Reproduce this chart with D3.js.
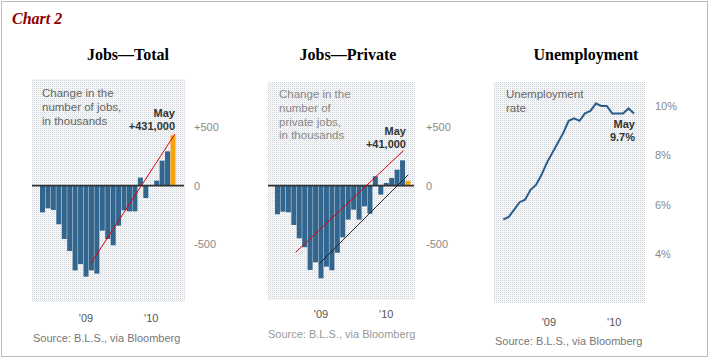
<!DOCTYPE html>
<html>
<head>
<meta charset="utf-8">
<script src="https://cdn.jsdelivr.net/npm/d3@7"></script>
<style>
  body { margin: 0; background: #fff; }
  text { font-family: "Liberation Sans", Arial, sans-serif; }
</style>
</head>
<body>
<div id="chart"></div>
<script>
// data, May 2008 to May 2010
var months = ["May 08", "Jun 08", "Jul 08", "Aug 08", "Sep 08", "Oct 08", "Nov 08", "Dec 08",
    "Jan 09", "Feb 09", "Mar 09", "Apr 09", "May 09", "Jun 09", "Jul 09", "Aug 09", "Sep 09",
    "Oct 09", "Nov 09", "Dec 09", "Jan 10", "Feb 10", "Mar 10", "Apr 10", "May 10"];

var totalJobs = [-229, -194, -208, -331, -457, -560, -726, -672, -780, -726, -754, -386,
    -457, -511, -343, -211, -220, -220, 69, -106, 5, 43, 214, 294, 431];

var privateJobs = [-245, -223, -228, -337, -451, -528, -722, -657, -794, -694, -725, -575,
    -443, -291, -206, -291, -177, -240, 80, -77, 23, 66, 137, 217, 41];

var unemployment = [5.4, 5.5, 5.8, 6.1, 6.2, 6.6, 6.8, 7.2, 7.7, 8.1, 8.5, 8.9, 9.4, 9.5,
    9.4, 9.7, 9.8, 10.1, 10.0, 10.0, 9.7, 9.7, 9.7, 9.9, 9.7];

var yearTicks = ["Jan 09", "Jan 10"];
var yearLabels = ["'09", "'10"];
var jobTicks = [500, 0, -500];
var jobTickLabels = ["+500", "0", "-500"];
var rateTicks = [10, 8, 6, 4];
var rateTickLabels = ["10%", "8%", "6%", "4%"];

// trend lines, in bar index / thousands
var totalTrend = [[8.9, -665], [24.4, 443]];
var privateTrendA = [[3.3, -572], [23.2, 300]];
var privateTrendB = [[7.7, -668], [24.1, 94]];

var width = 710;
var height = 362;

var svg = d3.select("#chart")
    .append("svg")
    .attr("width", width)
    .attr("height", height);

var defs = svg.append("defs");
var pat = defs.append("pattern")
    .attr("id", "dots")
    .attr("width", 2)
    .attr("height", 2)
    .attr("patternUnits", "userSpaceOnUse");
pat.append("rect").attr("width", 2).attr("height", 2).attr("fill", "#fbfcfd");
pat.append("rect").attr("width", 1).attr("height", 1).attr("fill", "#cfd3d7");
pat.append("rect").attr("x", 1).attr("y", 1).attr("width", 1).attr("height", 1).attr("fill", "#e9eef1");

// outer border
svg.append("rect")
    .attr("x", 1.5)
    .attr("y", 1.5)
    .attr("width", 706)
    .attr("height", 355)
    .attr("fill", "none")
    .attr("stroke", "#777")
    .attr("stroke-dasharray", "1,1");

svg.append("text")
    .attr("x", 12)
    .attr("y", 24)
    .style("font-family", "'Liberation Serif', 'Times New Roman', serif")
    .style("font-style", "italic")
    .style("font-weight", "bold")
    .style("font-size", "16px")
    .attr("fill", "#8b0000")
    .text("Chart 2");

function addTitle(x, label) {
    svg.append("text")
        .attr("x", x)
        .attr("y", 60)
        .attr("text-anchor", "middle")
        .style("font-family", "'Liberation Serif', 'Times New Roman', serif")
        .style("font-weight", "bold")
        .style("font-size", "16px")
        .attr("fill", "#000")
        .text(label);
}

function addNote(x, y0, lines, color) {
    svg.append("text")
        .attr("x", x)
        .attr("y", y0)
        .style("font-size", "11.5px")
        .attr("fill", color)
        .selectAll("tspan")
        .data(lines)
        .enter()
        .append("tspan")
        .attr("x", x)
        .attr("dy", function (d, i) { return i === 0 ? 0 : 13.8; })
        .text(function (d) { return d; });
}

function addCallout(x, y0, lines) {
    svg.append("text")
        .attr("x", x)
        .attr("y", y0)
        .attr("text-anchor", "end")
        .style("font-size", "11px")
        .style("font-weight", "bold")
        .attr("fill", "#333")
        .selectAll("tspan")
        .data(lines)
        .enter()
        .append("tspan")
        .attr("x", x)
        .attr("dy", function (d, i) { return i === 0 ? 0 : 12.8; })
        .text(function (d) { return d; });
}

function addSource(x, y, color) {
    svg.append("text")
        .attr("x", x)
        .attr("y", y)
        .style("font-size", "11px")
        .attr("fill", color)
        .text("Source: B.L.S., via Bloomberg");
}

function drawBars(cfg) {
    var g = svg.append("g");

    g.append("rect")
        .attr("x", cfg.box[0])
        .attr("y", cfg.box[1])
        .attr("width", cfg.box[2] - cfg.box[0])
        .attr("height", cfg.box[3] - cfg.box[1])
        .attr("fill", "url(#dots)");

    var x = d3.scaleBand()
        .domain(months)
        .range(cfg.xRange)
        .paddingInner(0.08);

    var xIdx = d3.scaleLinear()
        .domain([-0.5, months.length - 0.5])
        .range(cfg.xRange);

    var y = d3.scaleLinear()
        .domain([-500, 500])
        .range([244, 127.3]);

    g.selectAll(".bar")
        .data(cfg.values)
        .enter()
        .append("rect")
        .attr("class", "bar")
        .attr("x", function (d, i) { return x(months[i]); })
        .attr("width", x.bandwidth())
        .attr("y", function (d) { return y(Math.max(0, d)); })
        .attr("height", function (d) { return Math.abs(y(d) - y(0)); })
        .attr("fill", function (d, i) { return i === months.length - 1 ? "#f7a40c" : "#33668f"; });

    g.append("line")
        .attr("x1", cfg.box[0])
        .attr("x2", cfg.box[2] - 1)
        .attr("y1", y(0))
        .attr("y2", y(0))
        .attr("stroke", "#333")
        .attr("stroke-width", 1.6);

    cfg.trends.forEach(function (t) {
        g.append("line")
            .attr("x1", xIdx(t.pts[0][0]))
            .attr("y1", y(t.pts[0][1]))
            .attr("x2", xIdx(t.pts[1][0]))
            .attr("y2", y(t.pts[1][1]))
            .attr("stroke", t.color)
            .attr("stroke-width", 1);
    });

    g.selectAll(".ytick")
        .data(jobTicks)
        .enter()
        .append("text")
        .attr("x", cfg.tickX)
        .attr("y", function (d) { return y(d) + 4; })
        .style("font-size", "11px")
        .attr("fill", "#8a8a8a")
        .text(function (d, i) { return jobTickLabels[i]; });

    g.selectAll(".xtick")
        .data(yearTicks)
        .enter()
        .append("text")
        .attr("x", function (d) { return x(d) + x.bandwidth() / 2; })
        .attr("y", cfg.yearY)
        .attr("text-anchor", "middle")
        .style("font-size", "11px")
        .attr("fill", "#555")
        .text(function (d, i) { return yearLabels[i]; });
}

// Jobs - Total
addTitle(128, "Jobs\u2014Total");
drawBars({
    box: [32, 79, 185, 302],
    xRange: [40, 175.5],
    values: totalJobs,
    trends: [{ pts: totalTrend, color: "#e00000" }],
    tickX: 194,
    yearY: 322
});
addNote(42, 97, ["Change in the", "number of jobs,", "in thousands"], "#666");
addCallout(175, 117, ["May", "+431,000"]);
addSource(33, 342, "#777");

// Jobs - Private
addTitle(348, "Jobs\u2014Private");
drawBars({
    box: [268, 82, 415, 300],
    xRange: [275, 410.5],
    values: privateJobs,
    trends: [{ pts: privateTrendA, color: "#e00000" }, { pts: privateTrendB, color: "#222" }],
    tickX: 426,
    yearY: 318
});
addNote(279, 98, ["Change in the", "number of", "private jobs,", "in thousands"], "#888");
addCallout(406, 135, ["May", "+41,000"]);
addSource(268, 338, "#999");

// Unemployment
addTitle(586, "Unemployment");
(function () {
    var g = svg.append("g");
    g.append("rect")
        .attr("x", 494)
        .attr("y", 82)
        .attr("width", 151)
        .attr("height", 221)
        .attr("fill", "url(#dots)");

    var x = d3.scalePoint()
        .domain(months)
        .range([503.3, 634]);

    var y = d3.scaleLinear()
        .domain([4, 10])
        .range([254, 106]);

    var line = d3.line()
        .x(function (d, i) { return x(months[i]); })
        .y(function (d) { return y(d); });

    g.append("path")
        .datum(unemployment)
        .attr("d", line)
        .attr("fill", "none")
        .attr("stroke", "#2b5d8e")
        .attr("stroke-width", 2);

    g.selectAll(".ytick")
        .data(rateTicks)
        .enter()
        .append("text")
        .attr("x", 655)
        .attr("y", function (d) { return y(d) + 4; })
        .style("font-size", "11px")
        .attr("fill", "#8a8a8a")
        .text(function (d, i) { return rateTickLabels[i]; });

    g.selectAll(".xtick")
        .data(yearTicks)
        .enter()
        .append("text")
        .attr("x", function (d) { return x(d) + 2; })
        .attr("y", 326)
        .attr("text-anchor", "middle")
        .style("font-size", "11px")
        .attr("fill", "#555")
        .text(function (d, i) { return yearLabels[i]; });
})();
addNote(506, 98, ["Unemployment", "rate"], "#666");
addCallout(635, 128, ["May", "9.7%"]);
addSource(495, 345, "#777");
</script>
</body>
</html>
